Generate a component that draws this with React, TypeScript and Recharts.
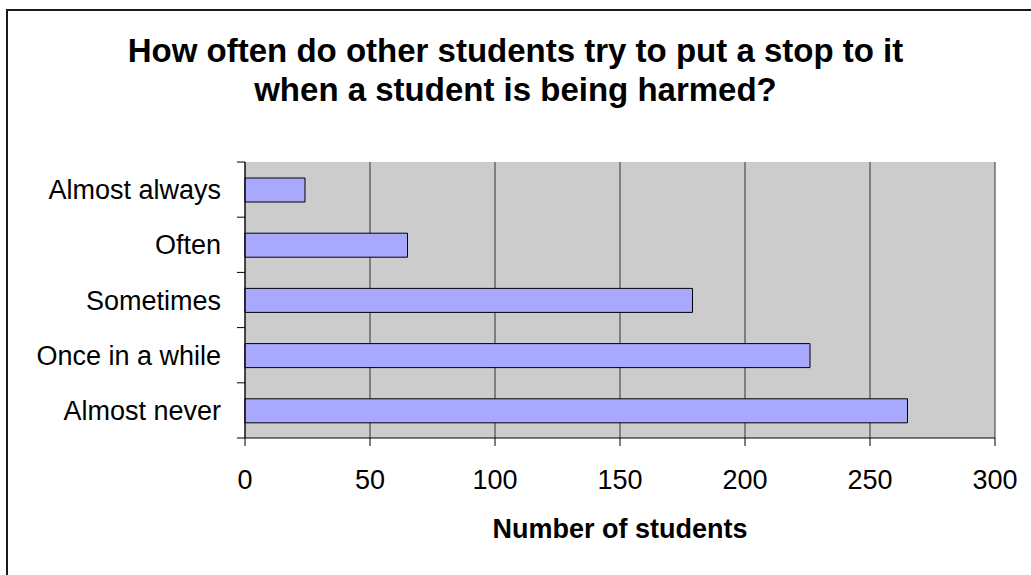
import { Bar, BarChart, CartesianGrid, XAxis, YAxis } from 'recharts';

const categories = ['Almost always', 'Often', 'Sometimes', 'Once in a while', 'Almost never'];
const counts = [24, 65, 179, 226, 265];
const xTicks = [0, 50, 100, 150, 200, 250, 300];
const titleLines = [
  'How often do other students try to put a stop to it',
  'when a student is being harmed?',
];
const xTitle = 'Number of students';

const data = categories.map((name, i) => ({ name, value: counts[i] }));

const FONT = '"Liberation Sans", Arial, sans-serif';

// label on the left, plus the little tick marks between the bands
const YTick = (props: any) => {
  const { x, y, payload, index, visibleTicksCount } = props;
  const half = payload?.offset ?? 27.6;
  const axisX = x + 24;
  return (
    <g>
      <line x1={axisX - 8} x2={axisX} y1={y - half} y2={y - half} stroke="#000" />
      {index === visibleTicksCount - 1 && (
        <line x1={axisX - 8} x2={axisX} y1={y + half} y2={y + half} stroke="#000" />
      )}
      <text x={x} y={y} dy="0.355em" textAnchor="end" fontSize={27} fontFamily={FONT} fill="#000">
        {payload.value}
      </text>
    </g>
  );
};

export default function App() {
  return (
    <div style={{ position: 'absolute', left: 0, top: 0, width: 1031, height: 575, background: '#fff' }}>
      <div
        style={{
          position: 'absolute',
          left: 6,
          top: 9,
          width: 1031,
          height: 575,
          borderTop: '2px solid #1a1a1a',
          borderLeft: '2px solid #1a1a1a',
        }}
      />
      <BarChart
        width={1031}
        height={575}
        data={data}
        layout="vertical"
        margin={{ top: 162, right: 36, bottom: 0, left: 0 }}
      >
        <CartesianGrid horizontal={false} stroke="#333" fill="#cccccc" />
        <XAxis
          type="number"
          domain={[0, 300]}
          ticks={xTicks}
          height={137}
          tickSize={8}
          tickMargin={24}
          axisLine={{ stroke: '#000' }}
          tickLine={{ stroke: '#000' }}
          tick={{ fontSize: 27, fontFamily: FONT, fill: '#000' }}
          label={{
            value: xTitle,
            position: 'insideBottom',
            offset: 37,
            fontSize: 27,
            fontWeight: 'bold',
            fontFamily: FONT,
            fill: '#000',
          }}
        />
        <YAxis
          type="category"
          dataKey="name"
          width={245}
          tickSize={8}
          tickMargin={16}
          tickLine={false}
          axisLine={{ stroke: '#000' }}
          tick={<YTick />}
        />
        <Bar dataKey="value" fill="#a8a8ff" stroke="#000" strokeWidth={1} barSize={24} isAnimationActive={false} />
      </BarChart>
      <svg width={1031} height={130} style={{ position: 'absolute', left: 0, top: 0 }}>
        {titleLines.map((line, i) => (
          <text
            key={line}
            x={515.5}
            y={62 + i * 39}
            textAnchor="middle"
            fontSize={33}
            fontWeight="bold"
            fontFamily={FONT}
            fill="#000"
          >
            {line}
          </text>
        ))}
      </svg>
    </div>
  );
}
